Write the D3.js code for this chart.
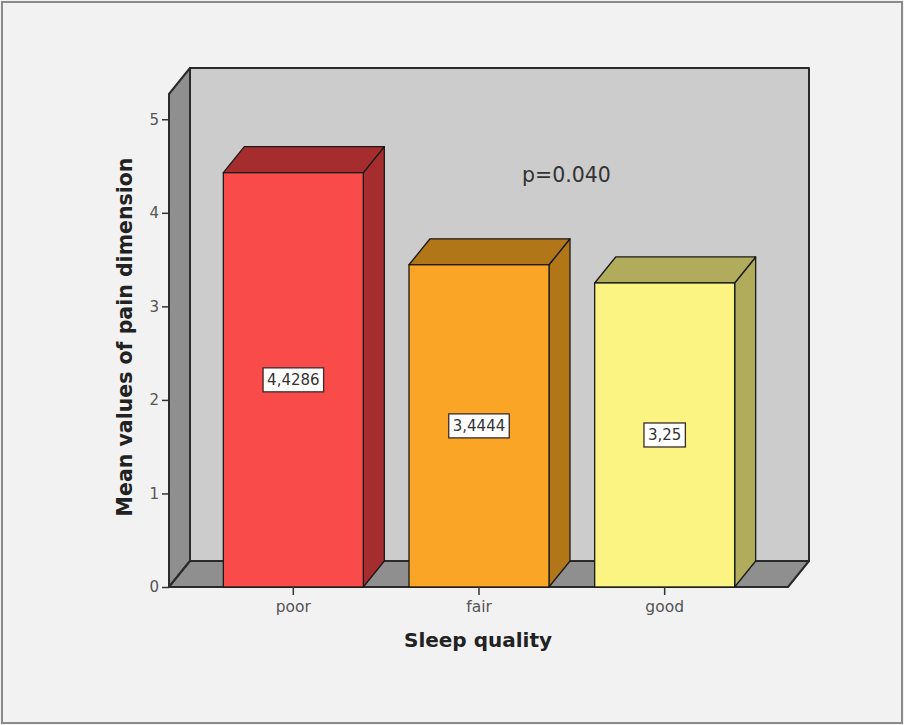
<!DOCTYPE html>
<html>
<head>
<meta charset="utf-8">
<script src="https://cdn.jsdelivr.net/npm/d3@7"></script>
<style>
  html, body { margin: 0; padding: 0; background: #f2f2f2; }
  svg { display: block; }
</style>
</head>
<body>
<svg id="chart" width="904" height="725"></svg>
<script>
// Mean pain-dimension score by sleep quality group
const categories = ["poor", "fair", "good"];
const meanValues = [4.4286, 3.4444, 3.25];
const valueLabels = ["4,4286", "3,4444", "3,25"];
const yTicks = [0, 1, 2, 3, 4, 5];
const frontColors = ["#f84b4a", "#fba526", "#fbf482"];
const shadeColors = ["#a52d2d", "#b17617", "#b1ac5c"];
const pValueText = "p=0.040";

const svg = d3.select("#chart");
const W = 904, H = 725;
const font = "DejaVu Sans, sans-serif";

// frame
svg.append("rect").attr("x", 0).attr("y", 0).attr("width", W).attr("height", H).attr("fill", "#f2f2f2");
svg.append("rect").attr("x", 2).attr("y", 2).attr("width", W - 4).attr("height", H - 4)
  .attr("fill", "none").attr("stroke", "#8a8a8a").attr("stroke-width", 2);

// 3D geometry
const dx = 21, dy = 26;
const x0 = 169, x1 = 788, yBase = 587;

const y = d3.scaleLinear().domain([0, 5.27]).range([yBase, 94]);
const x = d3.scaleBand().domain(categories).range([200.5, 757.5])
  .paddingInner(0.246).paddingOuter(0.123);

const yTop = y.range()[1];
const line = "#2a2a2a";

// back wall
svg.append("polygon")
  .attr("points", [[x0 + dx, yTop - dy], [x1 + dx, yTop - dy], [x1 + dx, yBase - dy], [x0 + dx, yBase - dy]].join(" "))
  .attr("fill", "#cccccc").attr("stroke", line).attr("stroke-width", 2).attr("stroke-linejoin", "round");
// left wall
svg.append("polygon")
  .attr("points", [[x0, yTop], [x0 + dx, yTop - dy], [x0 + dx, yBase - dy], [x0, yBase]].join(" "))
  .attr("fill", "#8f8f8f").attr("stroke", line).attr("stroke-width", 2).attr("stroke-linejoin", "round");
// floor
svg.append("polygon")
  .attr("points", [[x0, yBase], [x0 + dx, yBase - dy], [x1 + dx, yBase - dy], [x1, yBase]].join(" "))
  .attr("fill", "#8f8f8f").attr("stroke", line).attr("stroke-width", 2).attr("stroke-linejoin", "round");

// bars
const bars = svg.append("g").selectAll("g").data(categories).join("g");
bars.each(function (c, i) {
  const g = d3.select(this);
  const bx0 = x(c), bx1 = x(c) + x.bandwidth();
  const by = y(meanValues[i]);
  // side
  g.append("polygon")
    .attr("points", [[bx1, by], [bx1 + dx, by - dy], [bx1 + dx, yBase - dy], [bx1, yBase]].join(" "))
    .attr("fill", shadeColors[i]).attr("stroke", "#1a1a1a").attr("stroke-width", 1.3).attr("stroke-linejoin", "round");
  // top
  g.append("polygon")
    .attr("points", [[bx0, by], [bx0 + dx, by - dy], [bx1 + dx, by - dy], [bx1, by]].join(" "))
    .attr("fill", shadeColors[i]).attr("stroke", "#1a1a1a").attr("stroke-width", 1.3).attr("stroke-linejoin", "round");
  // front
  g.append("rect")
    .attr("x", bx0).attr("y", by).attr("width", bx1 - bx0).attr("height", yBase - by)
    .attr("fill", frontColors[i]).attr("stroke", "#1a1a1a").attr("stroke-width", 1.3);
});

// value labels in the middle of each bar
const labels = svg.append("g").selectAll("g").data(categories).join("g")
  .attr("transform", (c, i) => `translate(${x(c) + x.bandwidth() / 2},${y(meanValues[i] / 2)})`);
labels.each(function (c, i) {
  const g = d3.select(this);
  const t = g.append("text").text(valueLabels[i])
    .attr("text-anchor", "middle").attr("dy", "0.36em")
    .attr("font-family", font).attr("font-size", 15).attr("fill", "#333");
  const bb = t.node().getBBox();
  g.insert("rect", "text")
    .attr("x", bb.x - 4).attr("y", -12).attr("width", bb.width + 8).attr("height", 24)
    .attr("fill", "#ffffff").attr("stroke", "#3a2a2a").attr("stroke-width", 1.3);
});

// y axis
const yAxis = d3.axisLeft(y).tickValues(yTicks).tickSize(7).tickPadding(3).tickFormat(d3.format("d"));
const ya = svg.append("g").attr("transform", `translate(${x0},0)`).call(yAxis);
ya.select(".domain").remove();
ya.selectAll(".tick line").attr("stroke", "#333").attr("stroke-width", 1.5);
ya.selectAll(".tick text").attr("font-family", font).attr("font-size", 15).attr("fill", "#555");

// x axis
const xAxis = d3.axisBottom(x).tickSize(8).tickPadding(6);
const xa = svg.append("g").attr("transform", `translate(0,${yBase})`).call(xAxis);
xa.select(".domain").remove();
xa.selectAll(".tick line").attr("stroke", "#333").attr("stroke-width", 1.5);
xa.selectAll(".tick text").attr("font-family", font).attr("font-size", 15.5).attr("fill", "#555");

// axis titles
svg.append("text").text("Sleep quality")
  .attr("x", 478).attr("y", 647).attr("text-anchor", "middle")
  .attr("font-family", font).attr("font-weight", "bold").attr("font-size", 20).attr("fill", "#222");
svg.append("text").text("Mean values of pain dimension")
  .attr("transform", "translate(132,337) rotate(-90)").attr("text-anchor", "middle")
  .attr("font-family", font).attr("font-weight", "bold").attr("font-size", 20.5).attr("fill", "#222");

// significance annotation
svg.append("text").text(pValueText)
  .attr("x", 522).attr("y", 182)
  .attr("font-family", font).attr("font-size", 20.5).attr("fill", "#333");
</script>
</body>
</html>
